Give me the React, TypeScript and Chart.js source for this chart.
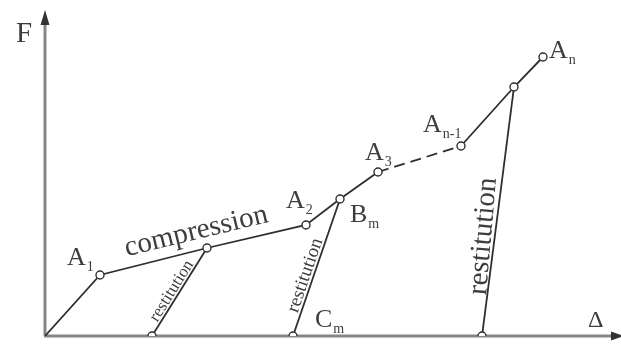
import React, { useEffect, useRef } from "react";
import { Chart, registerables } from "chart.js";

Chart.register(...registerables);

// Data (Δ = displacement, F = force), arbitrary units
const compressionDelta = [0, 55, 162, 261, 295, 333];
const compressionForce = [0, 61, 88, 111, 137, 164];
const dashedDelta = [333, 416];
const dashedForce = [164, 190];
const upperDelta = [416, 469, 498];
const upperForce = [190, 249, 279];
const restitutionBaseDelta = [107, 248, 437];
const restitutionTopDelta = [162, 295, 469];
const restitutionTopForce = [88, 137, 249];
const deltaMax = 576;
const forceMax = 326;

// Text labels
const pointLabels = [
  { main: "F", sub: "", x: -29, y: 294, size: 29 },
  { main: "Δ", sub: "", x: 543, y: 9, size: 24 },
  { main: "A", sub: "1", x: 22, y: 71, size: 26 },
  { main: "A", sub: "2", x: 241, y: 128, size: 26 },
  { main: "A", sub: "3", x: 320, y: 176, size: 26 },
  { main: "A", sub: "n-1", x: 378, y: 204, size: 26 },
  { main: "A", sub: "n", x: 504, y: 278, size: 26 },
  { main: "B", sub: "m", x: 305, y: 114, size: 26 },
  { main: "C", sub: "m", x: 270, y: 9, size: 26 },
];
const rotatedLabels = [
  { text: "compression", x: 153, y: 97, angle: -13.6, size: 29 },
  { text: "restitution", x: 130.5, y: 42.6, angle: -58, size: 17 },
  { text: "restitution", x: 265, y: 59, angle: -71, size: 19 },
  { text: "restitution", x: 446, y: 99, angle: -85, size: 29 },
];

const FONT = "'Liberation Serif', 'DejaVu Serif', serif";
const LINE = "#2e2e2e";
const AXIS = "#868686";
const TEXT = "#3d3d3d";

const toPts = (xs: number[], ys: number[]) => xs.map((x, i) => ({ x, y: ys[i] }));

const axesPlugin = {
  id: "arrowAxes",
  beforeDatasetsDraw(chart: any) {
    const { ctx } = chart;
    const xs = chart.scales.x;
    const ys = chart.scales.y;
    const ox = xs.getPixelForValue(0);
    const oy = ys.getPixelForValue(0);
    const topY = ys.getPixelForValue(forceMax);
    const rightX = xs.getPixelForValue(deltaMax);
    ctx.save();
    ctx.strokeStyle = AXIS;
    ctx.lineWidth = 3;
    ctx.beginPath();
    ctx.moveTo(ox, oy);
    ctx.lineTo(ox, topY + 12);
    ctx.moveTo(ox - 1, oy);
    ctx.lineTo(rightX - 8, oy);
    ctx.stroke();
    ctx.fillStyle = "#333";
    ctx.beginPath();
    ctx.moveTo(ox, topY);
    ctx.lineTo(ox - 4.5, topY + 15);
    ctx.lineTo(ox + 4.5, topY + 15);
    ctx.closePath();
    ctx.fill();
    ctx.beginPath();
    ctx.moveTo(rightX + 3, oy);
    ctx.lineTo(rightX - 10, oy - 4.5);
    ctx.lineTo(rightX - 10, oy + 4.5);
    ctx.closePath();
    ctx.fill();
    ctx.restore();
  },
};

const labelsPlugin = {
  id: "diagramLabels",
  afterDatasetsDraw(chart: any) {
    const { ctx } = chart;
    const xs = chart.scales.x;
    const ys = chart.scales.y;
    ctx.save();
    ctx.fillStyle = TEXT;
    ctx.textBaseline = "alphabetic";
    for (const l of pointLabels) {
      const px = xs.getPixelForValue(l.x);
      const py = ys.getPixelForValue(l.y);
      ctx.font = `${l.size}px ${FONT}`;
      ctx.textAlign = "left";
      ctx.fillText(l.main, px, py);
      if (l.sub) {
        const w = ctx.measureText(l.main).width;
        ctx.font = `14px ${FONT}`;
        ctx.fillText(l.sub, px + w + 1, py + 6);
      }
    }
    for (const r of rotatedLabels) {
      const px = xs.getPixelForValue(r.x);
      const py = ys.getPixelForValue(r.y);
      ctx.save();
      ctx.translate(px, py);
      ctx.rotate((r.angle * Math.PI) / 180);
      ctx.font = `${r.size}px ${FONT}`;
      ctx.textAlign = "center";
      ctx.fillText(r.text, 0, 0);
      ctx.restore();
    }
    ctx.restore();
  },
};

const pointStyle = {
  pointBackgroundColor: "#ffffff",
  pointBorderColor: LINE,
  pointBorderWidth: 1.4,
  pointHoverRadius: 4,
};

export default function App() {
  const ref = useRef<HTMLCanvasElement | null>(null);
  useEffect(() => {
    if (!ref.current) return;
    const restitution = restitutionBaseDelta.map((b, i) => ({
      data: [
        { x: b, y: 0 },
        { x: restitutionTopDelta[i], y: restitutionTopForce[i] },
      ],
      showLine: true,
      borderColor: LINE,
      borderWidth: 1.8,
      pointRadius: [4, 0],
      order: 2,
      ...pointStyle,
    }));
    const chart = new Chart(ref.current, {
      type: "scatter",
      data: {
        datasets: [
          {
            data: toPts(compressionDelta, compressionForce),
            showLine: true,
            borderColor: LINE,
            borderWidth: 1.8,
            pointRadius: [0, 4, 4, 4, 4, 4],
            order: 0,
            ...pointStyle,
          },
          {
            data: toPts(dashedDelta, dashedForce),
            showLine: true,
            borderColor: LINE,
            borderWidth: 1.8,
            borderDash: [11, 6],
            pointRadius: 0,
            order: 3,
          },
          {
            data: toPts(upperDelta, upperForce),
            showLine: true,
            borderColor: LINE,
            borderWidth: 1.8,
            pointRadius: 4,
            order: 1,
            ...pointStyle,
          },
          ...restitution,
        ],
      } as any,
      options: {
        animation: false,
        responsive: false,
        layout: { autoPadding: false, padding: { left: 45, top: 10, right: 0, bottom: 9 } },
        scales: {
          x: { type: "linear", min: 0, max: deltaMax, display: false },
          y: { type: "linear", min: 0, max: forceMax, display: false },
        },
        plugins: { legend: { display: false }, tooltip: { enabled: false } },
        elements: { line: { tension: 0 } },
      },
      plugins: [axesPlugin, labelsPlugin],
    } as any);
    return () => chart.destroy();
  }, []);
  return (
    <div style={{ position: "fixed", left: 0, top: 0, width: 621, height: 345, background: "#fff" }}>
      <canvas ref={ref} width={621} height={345} />
    </div>
  );
}
